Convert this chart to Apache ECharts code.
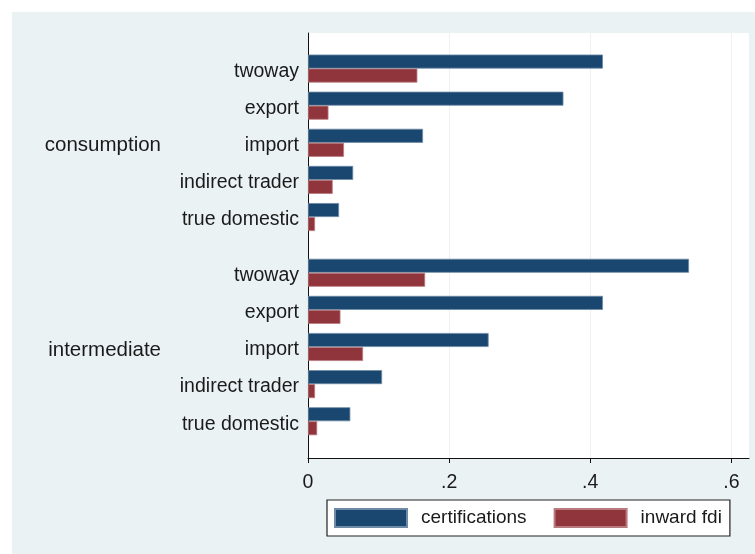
<!DOCTYPE html>
<html>
<head>
<meta charset="utf-8">
<script src="https://cdn.jsdelivr.net/npm/echarts@6/dist/echarts.min.js"></script>
<style>
  html, body { margin: 0; padding: 0; background: #ffffff; }
  #wrap { position: relative; width: 755px; height: 554px; background: #ffffff; }
  #bg { position: absolute; left: 12px; top: 12px; width: 743px; height: 542px; background: #EAF2F3; }
  #chart { position: absolute; left: 0; top: 0; width: 755px; height: 554px; }
</style>
</head>
<body>
<div id="wrap"><div id="bg"></div><div id="chart"></div></div>
<script>
const categories = ['twoway', 'export', 'import', 'indirect trader', 'true domestic'];
const groups = ['consumption', 'intermediate'];
const seriesNames = ['certifications', 'inward fdi'];
const certConsumption = [0.418, 0.362, 0.163, 0.064, 0.044];
const fdiConsumption = [0.155, 0.029, 0.051, 0.035, 0.010];
const certIntermediate = [0.540, 0.418, 0.256, 0.105, 0.060];
const fdiIntermediate = [0.166, 0.046, 0.078, 0.010, 0.013];
const xTicks = [0, 0.2, 0.4, 0.6];
const xTickLabels = ['0', '.2', '.4', '.6'];

const FONT = 'Liberation Sans, Arial, sans-serif';
const TXT = '#1a1a1a';
const BLUE = '#1A476F';
const RED = '#90353B';
const XMAX = 0.625;

const chart = echarts.init(document.getElementById('chart'), null, { renderer: 'canvas' });

function groupYAxis(gridIndex, name) {
  return {
    type: 'category', gridIndex: gridIndex, inverse: true, data: categories,
    axisLine: { show: false }, axisTick: { show: false }, splitLine: { show: false },
    axisLabel: {
      margin: 9, fontFamily: FONT, color: TXT,
      formatter: function (v) { return '{a|' + v + '}'; },
      rich: { a: { fontSize: 19.5, fontFamily: FONT, color: TXT, padding: [6, 0, 0, 0] } }
    },
    name: '{a|' + name + '}', nameLocation: 'middle', nameGap: 147, nameRotate: 0,
    nameTextStyle: {
      align: 'right', verticalAlign: 'middle', fontFamily: FONT, color: TXT,
      rich: { a: { fontSize: 20.5, fontFamily: FONT, color: TXT, padding: [6, 0, 0, 0] } }
    }
  };
}
function hiddenX(gridIndex) {
  return { type: 'value', gridIndex: gridIndex, min: 0, max: XMAX, show: false };
}
function barSeries(name, data, idx, color, border) {
  return {
    type: 'bar', name: name, data: data, xAxisIndex: idx, yAxisIndex: idx,
    barWidth: 14, barGap: '0%',
    itemStyle: { color: color, borderColor: border, borderWidth: 0.8 },
    silent: true, animation: false
  };
}

chart.setOption({
  backgroundColor: 'transparent',
  animation: false,
  grid: [
    { left: 308, right: 6, top: 33, bottom: 96, show: true, backgroundColor: '#ffffff', borderWidth: 0 },
    { left: 308, right: 6, top: 50, height: 185.6 },
    { left: 308, right: 6, top: 254.2, height: 185.6 }
  ],
  xAxis: [
    {
      type: 'value', gridIndex: 0, min: 0, max: XMAX,
      axisLine: { show: true, lineStyle: { color: '#111', width: 1 } },
      axisTick: { show: true, length: 5, inside: false, customValues: xTicks, lineStyle: { color: '#111', width: 1 } },
      axisLabel: {
        customValues: xTicks, margin: 15, fontSize: 19.5, fontFamily: FONT, color: TXT,
        formatter: function (v) { const i = xTicks.indexOf(v); return i >= 0 ? xTickLabels[i] : ''; }
      },
      splitLine: { show: true, lineStyle: { color: '#EAF2F3', width: 1 } }
    },
    hiddenX(1),
    hiddenX(2)
  ],
  yAxis: [
    {
      type: 'value', gridIndex: 0, min: 0, max: 1,
      axisLine: { show: true, lineStyle: { color: '#111', width: 1 } },
      axisTick: { show: false }, axisLabel: { show: false }, splitLine: { show: false }
    },
    groupYAxis(1, groups[0]),
    groupYAxis(2, groups[1])
  ],
  legend: {
    data: seriesNames,
    left: 327, top: 500,
    orient: 'horizontal',
    padding: [8, 8, 8, 7],
    itemWidth: 72, itemHeight: 18, itemGap: 27,
    icon: 'rect',
    backgroundColor: '#ffffff', borderColor: '#222', borderWidth: 1.2, borderRadius: 0,
    textStyle: { fontSize: 19, fontFamily: FONT, color: TXT, padding: [0, 0, 0, 9] },
    selectedMode: false
  },
  series: [
    barSeries(seriesNames[0], certConsumption, 1, BLUE, '#6d8aa6'),
    barSeries(seriesNames[1], fdiConsumption, 1, RED, '#b87a7f'),
    barSeries(seriesNames[0], certIntermediate, 2, BLUE, '#6d8aa6'),
    barSeries(seriesNames[1], fdiIntermediate, 2, RED, '#b87a7f')
  ]
});
</script>
</body>
</html>
